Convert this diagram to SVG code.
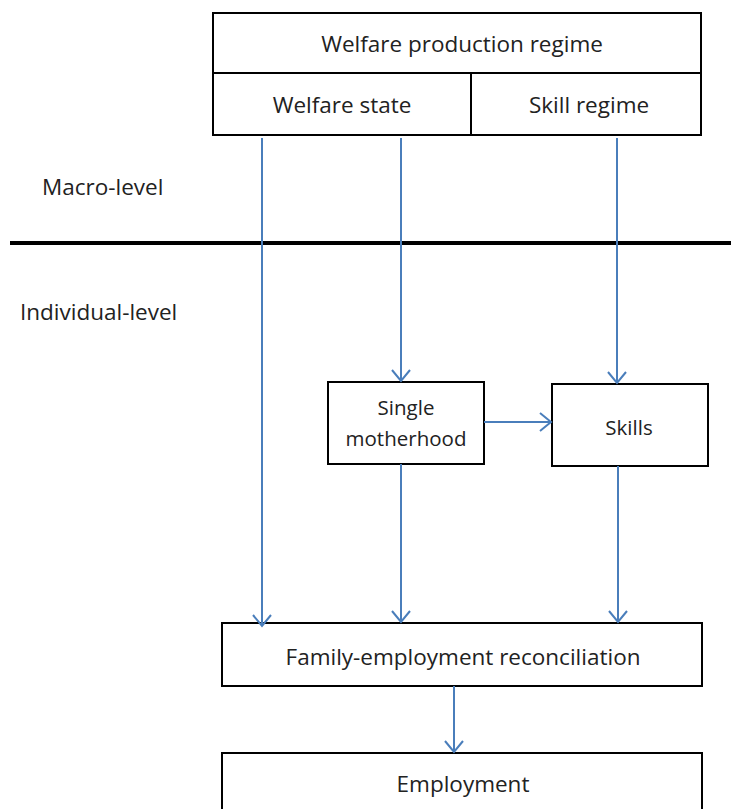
<svg xmlns="http://www.w3.org/2000/svg" width="731" height="809" viewBox="0 0 731 809">
<style>
.box{fill:#fff;stroke:#000;stroke-width:2}
.t{font-family:"Open Sans","Noto Sans",sans-serif;font-size:22.5px;fill:#222;text-anchor:middle}
.s{font-size:20.5px}
.lbl{font-family:"Open Sans","Noto Sans",sans-serif;font-size:22.5px;fill:#222}
.c{stroke:#4a7ebb;stroke-width:2;fill:none}
.ah{stroke:#4a7ebb;stroke-width:2;fill:none}
</style>
<defs>
<marker id="arr" markerWidth="24" markerHeight="24" refX="12" refY="10" orient="auto" markerUnits="userSpaceOnUse" viewBox="0 0 24 20">
<path d="M1,1 L12,10 L1,19" class="ah"/>
</marker>
</defs>
<rect width="731" height="809" fill="#fff"/>
<line x1="10" y1="243" x2="731" y2="243" stroke="#000" stroke-width="4"/>
<text class="lbl" x="42" y="195">Macro-level</text>
<text class="lbl" x="20" y="320">Individual-level</text>
<g id="welfare-production-regime">
<rect class="box" x="213" y="13" width="488" height="60"/>
<text class="t" x="462" y="52">Welfare production regime</text>
</g>
<g id="welfare-state">
<rect class="box" x="213" y="73" width="258" height="62"/>
<text class="t" x="342" y="113">Welfare state</text>
</g>
<g id="skill-regime">
<rect class="box" x="471" y="73" width="230" height="62"/>
<text class="t" x="589" y="113">Skill regime</text>
</g>
<g id="single-motherhood">
<rect class="box" x="328" y="382" width="156" height="82"/>
<text class="t s" x="406" y="415">Single</text>
<text class="t s" x="406" y="446">motherhood</text>
</g>
<g id="skills">
<rect class="box" x="552" y="384" width="156" height="82"/>
<text class="t s" x="629" y="435">Skills</text>
</g>
<g id="family-employment-reconciliation">
<rect class="box" x="222" y="623" width="480" height="63"/>
<text class="t" x="463" y="665">Family-employment reconciliation</text>
</g>
<g id="employment">
<rect class="box" x="222" y="753" width="480" height="70"/>
<text class="t" x="463" y="792">Employment</text>
</g>
<g id="connectors">
<line class="c" x1="262" y1="138" x2="262" y2="626" marker-end="url(#arr)"/>
<line class="c" x1="401" y1="138" x2="401" y2="381" marker-end="url(#arr)"/>
<line class="c" x1="617" y1="138" x2="617" y2="383" marker-end="url(#arr)"/>
<line class="c" x1="484" y1="422" x2="551" y2="422" marker-end="url(#arr)"/>
<line class="c" x1="401" y1="464" x2="401" y2="622" marker-end="url(#arr)"/>
<line class="c" x1="618" y1="466" x2="618" y2="622" marker-end="url(#arr)"/>
<line class="c" x1="454" y1="686" x2="454" y2="752" marker-end="url(#arr)"/>
</g>
</svg>
